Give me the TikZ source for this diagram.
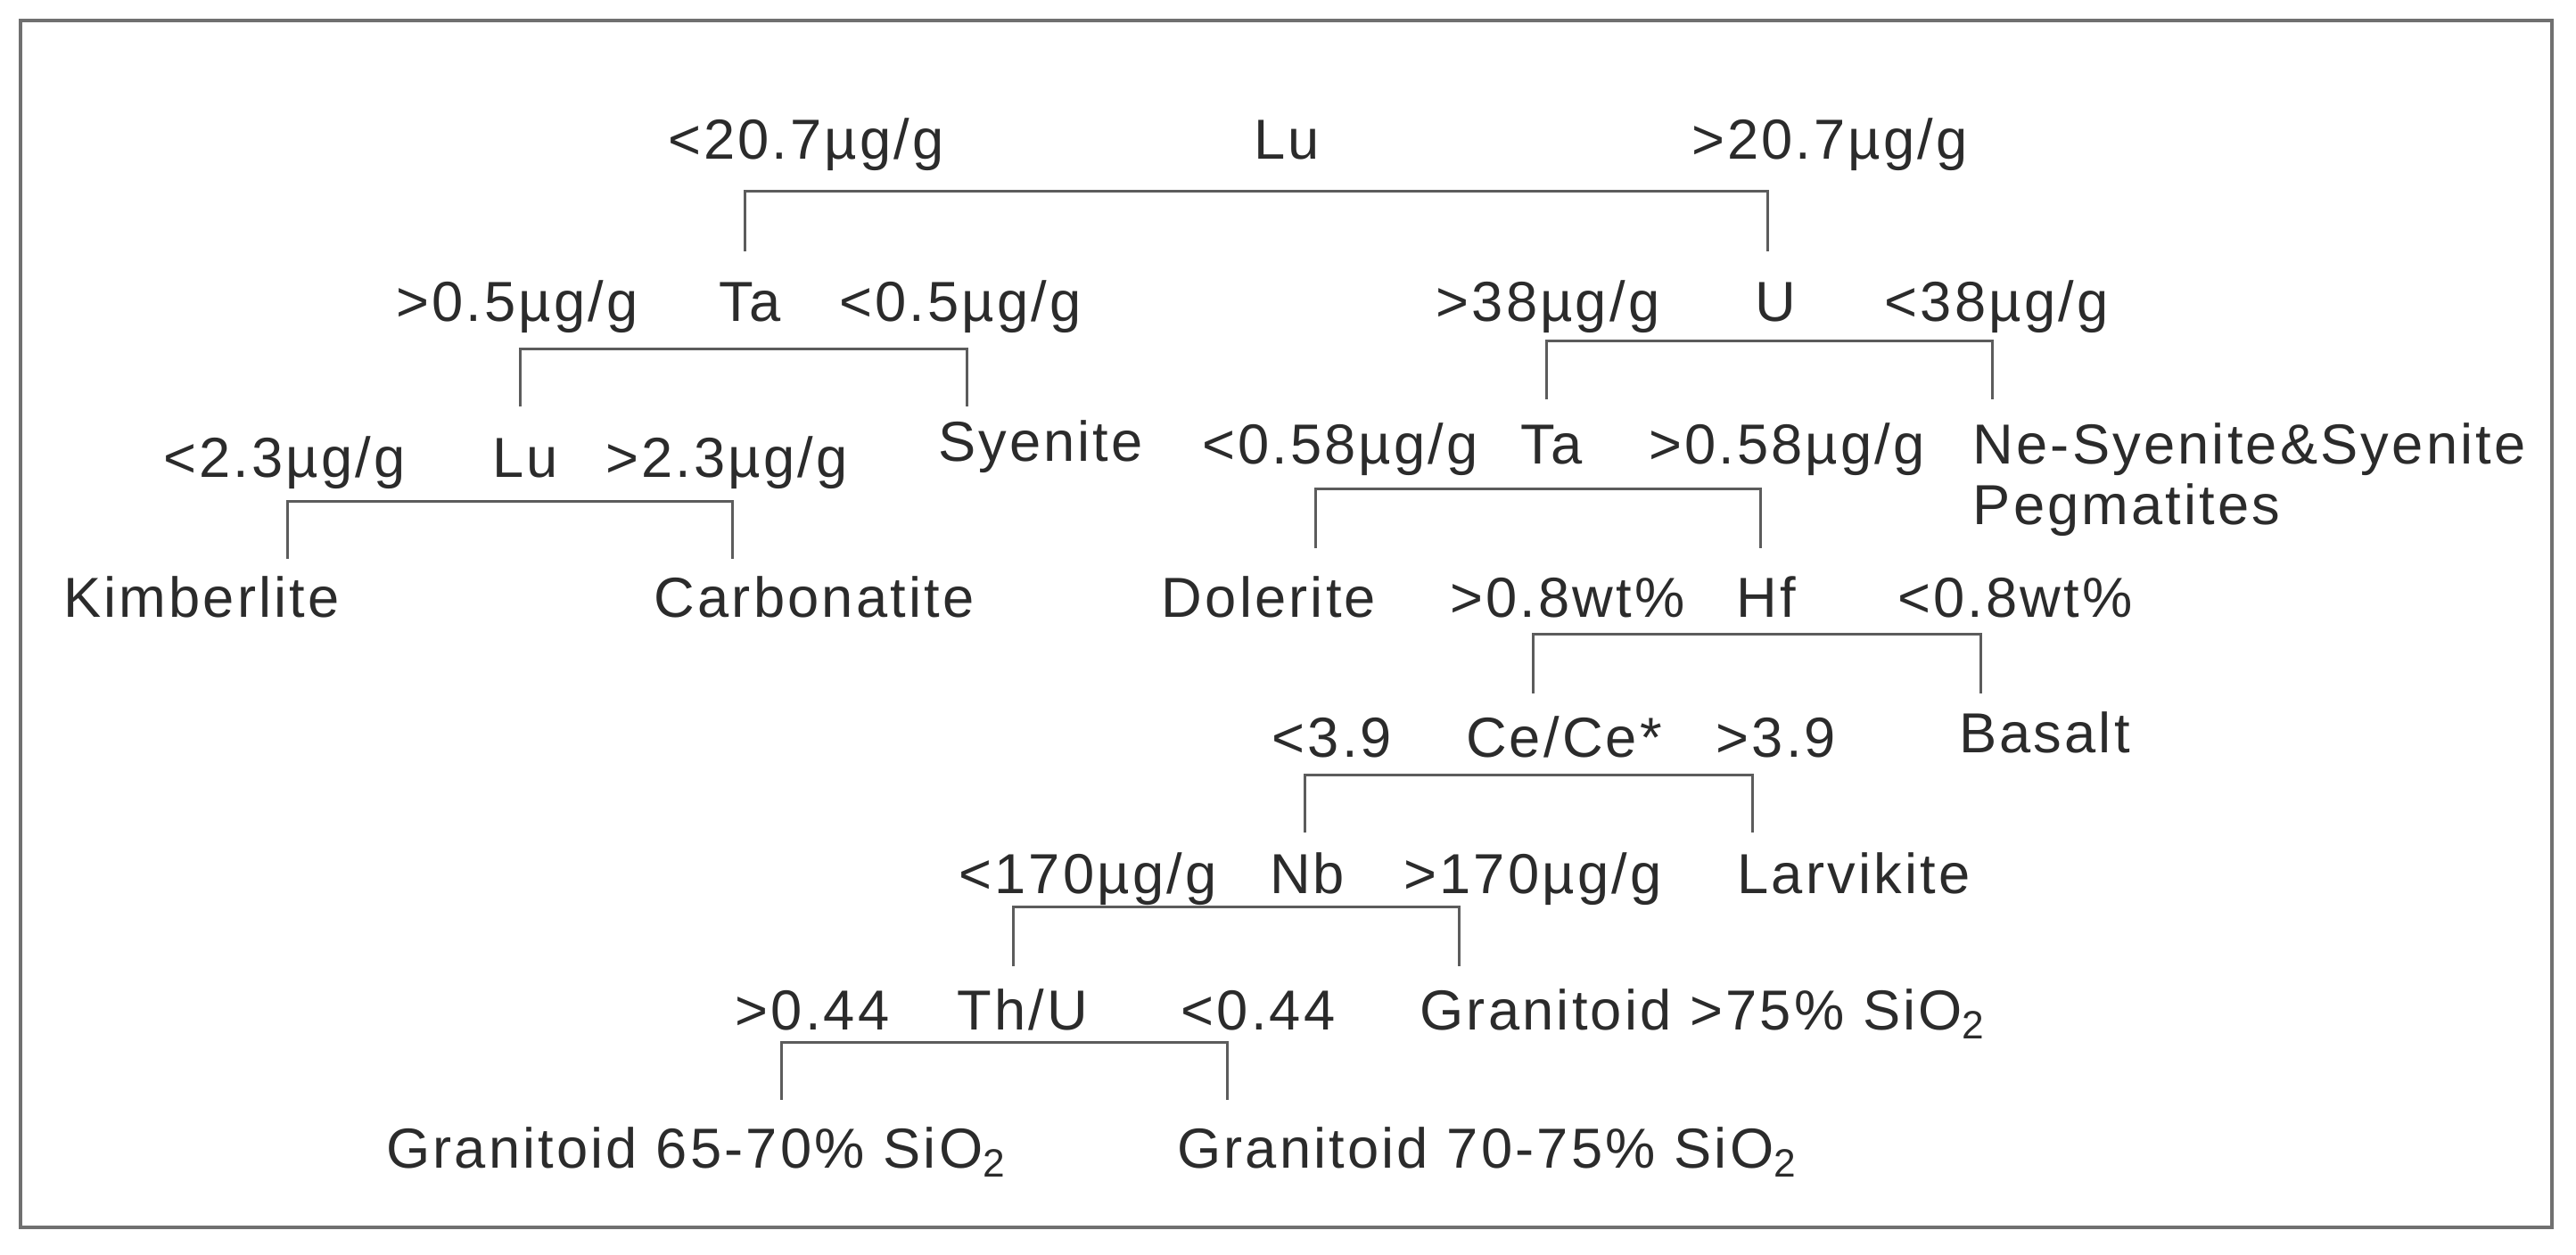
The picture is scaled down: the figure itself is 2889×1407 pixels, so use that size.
\documentclass[tikz,border=0pt]{standalone}
\usepackage{fontspec}
\setmainfont[LetterSpace=5]{Liberation Sans}
\definecolor{inkgray}{HTML}{2B2B2B}
\definecolor{linegray}{HTML}{5C5C5C}
\definecolor{framegray}{HTML}{707070}
\tikzset{
  lbl/.style={anchor=base,inner sep=0pt,text=inkgray,font=\fontsize{18}{22}\selectfont},
  lblw/.style={lbl,anchor=base west},
  split/.style={draw=linegray,line width=0.3mm},
}

\begin{document}
\begin{tikzpicture}[x=0.1mm,y=-0.1mm]
  \useasboundingbox (0,0) rectangle (2889,1407);
  \draw[framegray,line width=0.45mm] (23,23) rectangle (2862,1377);

  % Lu, first test
  \node[lbl] (luLo) at (904,178) {<20.7µg/g};
  \node[lbl] (lu)   at (1443,178) {Lu};
  \node[lbl] (luHi) at (2052,178) {>20.7µg/g};

  % Ta (left) and U
  \node[lbl] (taHi) at (580,360) {>0.5µg/g};
  \node[lbl] (ta)   at (841,360) {Ta};
  \node[lbl] (taLo) at (1077,360) {<0.5µg/g};
  \node[lbl] (uHi)  at (1736,360) {>38µg/g};
  \node[lbl] (u)    at (1991,360) {U};
  \node[lbl] (uLo)  at (2239,360) {<38µg/g};

  % Lu (left), Syenite, Ta (right), Ne-Syenite
  \node[lbl] (lbLo) at (319,535) {<2.3µg/g};
  \node[lbl] (lb)   at (589,535) {Lu};
  \node[lbl] (lbHi) at (815,535) {>2.3µg/g};
  \node[lbl] (syen) at (1167,517) {Syenite};
  \node[lbl] (tbLo) at (1503,520) {<0.58µg/g};
  \node[lbl] (tb)   at (1740,520) {Ta};
  \node[lbl] (tbHi) at (2004,520) {>0.58µg/g};
  \node[lblw] (nesy) at (2212,520) {Ne-Syenite\&Syenite};
  \node[lblw] (pegm) at (2212,588) {Pegmatites};

  % Kimberlite, Carbonatite, Dolerite, Hf
  \node[lbl] (kimb) at (226,692) {Kimberlite};
  \node[lbl] (carb) at (913,692) {Carbonatite};
  \node[lbl] (dole) at (1423,692) {Dolerite};
  \node[lbl] (hfHi) at (1758,692) {>0.8wt\%};
  \node[lbl] (hf)   at (1981,692) {Hf};
  \node[lbl] (hfLo) at (2260,692) {<0.8wt\%};

  % Ce/Ce*, Basalt
  \node[lbl] (ceLo) at (1494,849) {<3.9};
  \node[lbl] (ce)   at (1754,849) {Ce/Ce*};
  \node[lbl] (ceHi) at (1992,849) {>3.9};
  \node[lbl] (basa) at (2293,844) {Basalt};

  % Nb, Larvikite
  \node[lbl] (nbLo) at (1220,1002) {<170µg/g};
  \node[lbl] (nb)   at (1466,1002) {Nb};
  \node[lbl] (nbHi) at (1719,1002) {>170µg/g};
  \node[lbl] (larv) at (2079,1002) {Larvikite};

  % Th/U, granitoids
  \node[lbl] (thHi) at (911,1155) {>0.44};
  \node[lbl] (th)   at (1147,1155) {Th/U};
  \node[lbl] (thLo) at (1411,1155) {<0.44};
  \node[lbl] (grA)  at (1910,1155) {Granitoid >75\% SiO\textsubscript{2}};
  \node[lbl] (grB)  at (781,1310) {Granitoid 65-70\% SiO\textsubscript{2}};
  \node[lbl] (grC)  at (1668,1310) {Granitoid 70-75\% SiO\textsubscript{2}};

  % bracket feet
  \coordinate (luL) at (835,282);  \coordinate (luR) at (1982,282);
  \coordinate (taL) at (583,456);  \coordinate (taR) at (1084,456);
  \coordinate (lbL) at (322,627);  \coordinate (lbR) at (821,627);
  \coordinate (uL)  at (1734,448); \coordinate (uR)  at (2234,448);
  \coordinate (tbL) at (1475,615); \coordinate (tbR) at (1974,615);
  \coordinate (hfL) at (1719,778); \coordinate (hfR) at (2221,778);
  \coordinate (ceL) at (1463,934); \coordinate (ceR) at (1965,934);
  \coordinate (nbL) at (1136,1084); \coordinate (nbR) at (1636,1084);
  \coordinate (thL) at (876,1234); \coordinate (thR) at (1376,1234);

  % brackets
  \draw[split] (luL) -- ++(0,-68) -| (luR);
  \draw[split] (taL) -- ++(0,-65) -| (taR);
  \draw[split] (lbL) -- ++(0,-65) -| (lbR);
  \draw[split] (uL)  -- ++(0,-66) -| (uR);
  \draw[split] (tbL) -- ++(0,-67) -| (tbR);
  \draw[split] (hfL) -- ++(0,-67) -| (hfR);
  \draw[split] (ceL) -- ++(0,-65) -| (ceR);
  \draw[split] (nbL) -- ++(0,-67) -| (nbR);
  \draw[split] (thL) -- ++(0,-65) -| (thR);
\end{tikzpicture}
\end{document}
